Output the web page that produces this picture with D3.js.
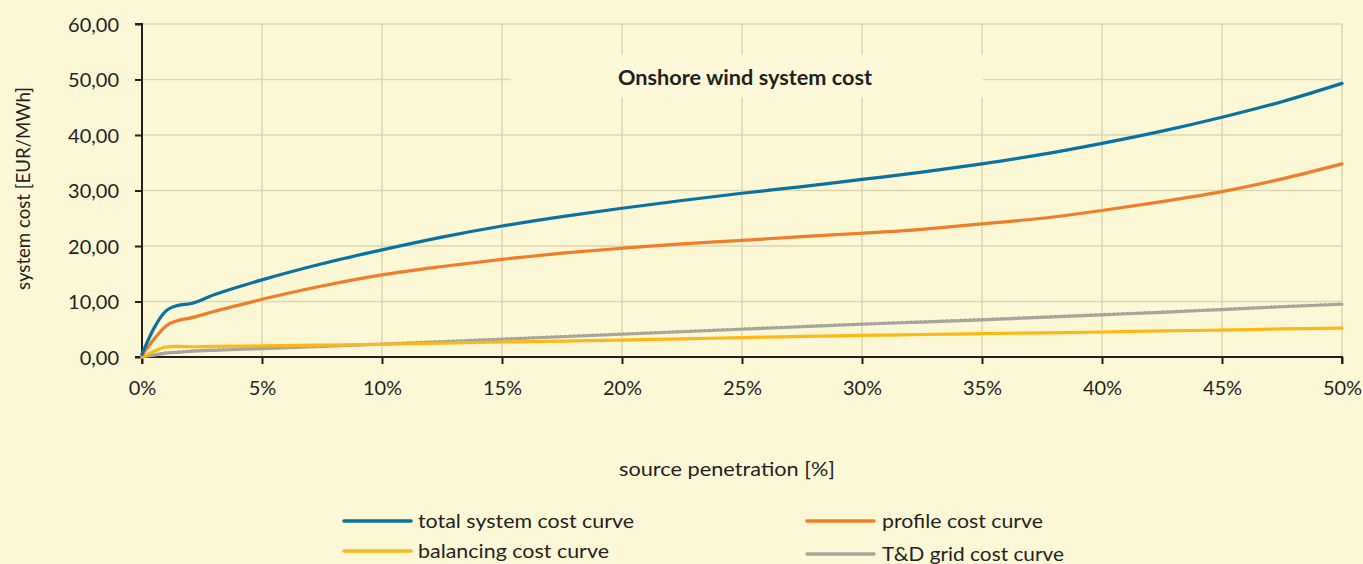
<!DOCTYPE html>
<html><head><meta charset="utf-8">
<script src="https://cdn.jsdelivr.net/npm/d3@7"></script>
<style>
html,body{margin:0;padding:0;background:#fcf8d6;}
svg{display:block;}
text{font-family:Lato,"Open Sans",sans-serif;fill:#231f20;}
</style></head>
<body>
<svg id="c" width="1363" height="564"></svg>
<script>
const penetration = [0, 0.5, 1, 1.5, 2, 3, 4, 5, 7.5, 10, 12.5, 15, 17.5, 20, 22.5, 25, 27.5, 30, 32.5, 35, 37.5, 40, 42.5, 45, 47.5, 50];
const totalCost   = [0.5, 5.2, 8.3, 9.3, 9.6, 11.2, 12.6, 13.9, 16.8, 19.3, 21.6, 23.6, 25.3, 26.8, 28.2, 29.5, 30.7, 32.0, 33.3, 34.8, 36.5, 38.5, 40.7, 43.2, 46.0, 49.3];
const profileCost = [0.3, 3.2, 5.6, 6.6, 7.0, 8.2, 9.3, 10.4, 12.8, 14.8, 16.3, 17.6, 18.7, 19.6, 20.4, 21.0, 21.7, 22.3, 23.0, 24.0, 25.0, 26.4, 28.0, 29.8, 32.1, 34.8];
const balancingCost = [0, 1.0, 1.8, 1.9, 1.85, 1.9, 1.95, 2.0, 2.15, 2.3, 2.5, 2.7, 2.85, 3.05, 3.25, 3.5, 3.7, 3.9, 4.05, 4.2, 4.35, 4.5, 4.7, 4.85, 5.05, 5.2];
const gridCost    = [0, 0.35, 0.7, 0.85, 1.0, 1.2, 1.35, 1.5, 1.9, 2.3, 2.75, 3.2, 3.65, 4.1, 4.55, 5.0, 5.45, 5.9, 6.3, 6.7, 7.15, 7.6, 8.05, 8.55, 9.05, 9.5];
const xTicks = [0, 5, 10, 15, 20, 25, 30, 35, 40, 45, 50];
const yTicks = [0, 10, 20, 30, 40, 50, 60];
const seriesNames = ["total system cost curve", "profile cost curve", "balancing cost curve", "T&D grid cost curve"];
const seriesColors = ["#0a72a0", "#f07d28", "#fdb816", "#a8a69c"];
const chartTitle = "Onshore wind system cost";
const xTitle = "source penetration [%]";
const yTitle = "system cost [EUR/MWh]";

const svg = d3.select("#c");
const x = d3.scaleLinear().domain([0, 50]).range([142, 1342]);
const y = d3.scaleLinear().domain([0, 60]).range([357, 24]);

// gridlines
const grid = svg.append("g").attr("stroke", "#ddd6b2").attr("stroke-width", 1.5);
grid.selectAll("line.h").data(yTicks.slice(1)).join("line")
  .attr("x1", x(0)).attr("x2", x(50)).attr("y1", d => y(d)).attr("y2", d => y(d));
grid.selectAll("line.v").data(xTicks.slice(1)).join("line")
  .attr("y1", y(0)).attr("y2", y(60)).attr("x1", d => x(d)).attr("x2", d => x(d));

// title box
svg.append("rect").attr("x", 511).attr("y", 55).attr("width", 472).attr("height", 42).attr("fill", "#fcf8d8");
svg.append("text").attr("x", 618).attr("y", 85).attr("font-size", 20).attr("font-weight", "bold")
  .attr("textLength", 254).attr("lengthAdjust", "spacingAndGlyphs").text(chartTitle);

// axes
const fmt = v => d3.format(".2f")(v).replace(".", ",");
const yAxis = svg.append("g").attr("transform", `translate(${x(0)},0)`)
  .call(d3.axisLeft(y).tickValues(yTicks).tickSize(7).tickPadding(16).tickFormat(fmt));
const xAxis = svg.append("g").attr("transform", `translate(0,${y(0)})`)
  .call(d3.axisBottom(x).tickValues(xTicks).tickSize(7).tickPadding(16).tickFormat(d => d + "%"));
[yAxis, xAxis].forEach(a => {
  a.select(".domain").attr("stroke", "#231f20").attr("stroke-width", 2);
  a.selectAll(".tick line").attr("stroke", "#231f20").attr("stroke-width", 2);
  a.selectAll("text").attr("font-size", 20).attr("font-family", "Lato, sans-serif").attr("fill", "#231f20");
});
yAxis.select(".domain").attr("d", `M-7,${y(0)}H0V${y(60)}H-7`);
yAxis.selectAll("text").attr("dy", "0.35em");
xAxis.select(".domain").attr("d", `M${x(0)},7V0H${x(50)}V7`);
xAxis.selectAll("text").attr("dy", "0.75em");

// lines
const allSeries = [totalCost, profileCost, balancingCost, gridCost];
const line = d3.line().x((d, i) => x(penetration[i])).y(d => y(d)).curve(d3.curveMonotoneX);
const drawOrder = [3, 2, 1, 0];
drawOrder.forEach(k => {
  svg.append("path").attr("d", line(allSeries[k])).attr("fill", "none")
    .attr("stroke", seriesColors[k]).attr("stroke-width", 3.2).attr("stroke-linejoin", "round").attr("stroke-linecap", "round");
  if (k === 3) {
    svg.append("path").attr("d", line(allSeries[k])).attr("fill", "none")
      .attr("transform", "translate(0,-1.3)")
      .attr("stroke", "#96958c").attr("stroke-width", 0.9).attr("stroke-dasharray", "1.5,3");
  }
});

// axis titles
svg.append("text").attr("x", 619).attr("y", 476).attr("font-size", 19)
  .attr("textLength", 216).attr("lengthAdjust", "spacingAndGlyphs").text(xTitle);
svg.append("text").attr("transform", "translate(30,290) rotate(-90)").attr("font-size", 19)
  .attr("textLength", 203).attr("lengthAdjust", "spacingAndGlyphs").text(yTitle);

// legend
const legendPos = [
  {lx: 344, ly: 521, tx: 418, ty: 528, w: 216},
  {lx: 807, ly: 521, tx: 882, ty: 528, w: 161},
  {lx: 344, ly: 551, tx: 418, ty: 558, w: 191},
  {lx: 807, ly: 554, tx: 882, ty: 561, w: 182}
];
seriesNames.forEach((n, k) => {
  const p = legendPos[k];
  svg.append("line").attr("x1", p.lx).attr("x2", p.lx + 67).attr("y1", p.ly).attr("y2", p.ly)
    .attr("stroke", seriesColors[k]).attr("stroke-width", 3.5).attr("stroke-linecap", "round");
  svg.append("text").attr("x", p.tx).attr("y", p.ty).attr("font-size", 20)
    .attr("textLength", p.w).attr("lengthAdjust", "spacingAndGlyphs").text(n);
});
</script>
</body></html>
